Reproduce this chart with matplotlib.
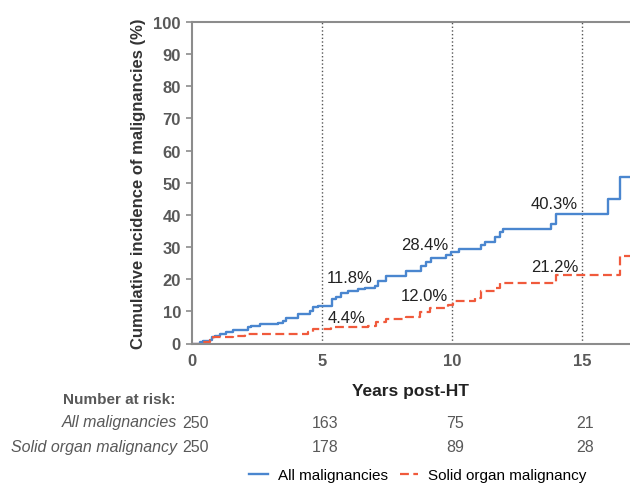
import matplotlib.pyplot as plt
from matplotlib.transforms import blended_transform_factory

plt.rcParams['font.family'] = ['Liberation Sans', 'DejaVu Sans']

# cumulative incidence (%) - step curves
t_all = [0, 0.29, 0.42, 0.68, 0.77, 0.87, 1.06, 1.32, 1.58, 2.15, 2.28, 2.6, 3.31, 3.5, 3.63,
         4.08, 4.53, 4.65, 4.85, 5.38, 5.55, 5.74, 6.0, 6.38, 6.64, 7.03, 7.15, 7.47, 8.24,
         8.82, 9.01, 9.21, 9.78, 9.97, 10.29, 11.13, 11.26, 11.64, 11.83, 11.96, 13.82, 14.01,
         16.0, 16.45, 16.85]
ci_all = [0, 0.4, 0.8, 1.0, 2.0, 2.4, 3.1, 3.7, 4.2, 5.0, 5.4, 6.0, 6.5, 7.0, 7.9,
          9.1, 10.2, 11.2, 11.8, 13.8, 14.6, 15.7, 16.2, 16.8, 17.4, 17.8, 19.3, 20.9, 22.4,
          24.2, 25.3, 26.5, 27.5, 28.4, 29.4, 30.5, 31.7, 33.1, 34.6, 35.7, 37.2, 40.3,
          45.0, 51.8, 51.8]

t_solid = [0, 0.29, 0.68, 0.81, 1.58, 2.03, 3.95, 4.46, 4.65, 5.36, 6.77, 7.09, 7.47, 8.24,
           8.76, 9.14, 9.85, 10.04, 10.87, 11.13, 11.64, 11.83, 14.01, 16.45, 16.85]
ci_solid = [0, 0.5, 1.0, 1.9, 2.2, 2.8, 3.1, 3.6, 4.4, 5.0, 5.5, 6.8, 7.6, 8.3,
            9.7, 11.0, 12.0, 13.1, 14.3, 16.3, 17.4, 18.9, 21.2, 27.3, 27.3]

marks = [5, 10, 15]
labels_all = ['11.8%', '28.4%', '40.3%']
labels_solid = ['4.4%', '12.0%', '21.2%']

risk_times = [0, 5, 10, 15]
risk_all = [250, 163, 75, 21]
risk_solid = [250, 178, 89, 28]

blue = '#4a86cf'
red = '#f05a3c'
grey = '#595959'
spine = '#8c8c8c'

fig = plt.figure(figsize=(6.3, 5.02), dpi=100)
ax = fig.add_axes([192 / 630, 1 - 344.5 / 502, 1 - 192 / 630, (344.5 - 23) / 502])

ax.step(t_all, ci_all, where='post', color=blue, lw=1.7, label='All malignancies')
ax.step(t_solid, ci_solid, where='post', color=red, lw=1.6, dashes=(4, 2),
        label='Solid organ malignancy')

for m in marks:
    ax.axvline(m, color='#555555', lw=1, ls=':', zorder=0)

# annotations at 5/10/15 years
ax.text(5.19, 20.6, labels_all[0], ha='left', va='center', fontsize=12, color='#222222')
ax.text(5.23, 8.2, labels_solid[0], ha='left', va='center', fontsize=12, color='#222222')
ax.text(9.85, 30.8, labels_all[1], ha='right', va='center', fontsize=12, color='#222222')
ax.text(9.85, 15.0, labels_solid[1], ha='right', va='center', fontsize=12, color='#222222')
ax.text(14.85, 43.5, labels_all[2], ha='right', va='center', fontsize=12, color='#222222')
ax.text(14.85, 24.0, labels_solid[2], ha='right', va='center', fontsize=12, color='#222222')

ax.set_xlim(0, 16.85)
ax.set_ylim(0, 100)
ax.set_xticks([0, 5, 10, 15])
ax.set_yticks(range(0, 101, 10))
ax.tick_params(axis='x', length=0, pad=7, labelsize=12, labelcolor=grey)
ax.tick_params(axis='y', length=4, width=1.2, color=spine, pad=4, labelsize=12, labelcolor=grey)
for lab in ax.get_xticklabels() + ax.get_yticklabels():
    lab.set_fontweight('bold')

for s in ['left', 'bottom', 'top']:
    ax.spines[s].set_color(spine)
    ax.spines[s].set_linewidth(1.5)
ax.spines['right'].set_visible(False)

ax.set_ylabel('Cumulative incidence of malignancies (%)', fontsize=12, fontweight='bold',
              color='#333333', labelpad=5)
ax.set_xlabel('Years post-HT', fontsize=12.5, fontweight='bold', color='#222222', labelpad=11)

# number at risk table
tr = blended_transform_factory(ax.transData, fig.transFigure)
fig.text(175 / 630, 1 - 400 / 502, 'Number at risk:', ha='right', va='center',
         fontsize=11, fontweight='bold', color=grey)
fig.text(177 / 630, 1 - 423 / 502, 'All malignancies', ha='right', va='center',
         fontsize=11.5, style='italic', color=grey)
fig.text(177 / 630, 1 - 448 / 502, 'Solid organ malignancy', ha='right', va='center',
         fontsize=11.5, style='italic', color=grey)
for t, a, s in zip(risk_times, risk_all, risk_solid):
    ax.text(t + 0.12, 1 - 423 / 502, str(a), transform=tr, ha='center', va='center',
            fontsize=11.5, color=grey, clip_on=False)
    ax.text(t + 0.12, 1 - 448 / 502, str(s), transform=tr, ha='center', va='center',
            fontsize=11.5, color=grey, clip_on=False)

fig.legend(loc='center', bbox_to_anchor=(418 / 630, 1 - 476 / 502), ncol=2, frameon=False,
           fontsize=11, handlelength=1.2, handletextpad=0.65, columnspacing=0.8)

fig.savefig('out.png', dpi=100)
